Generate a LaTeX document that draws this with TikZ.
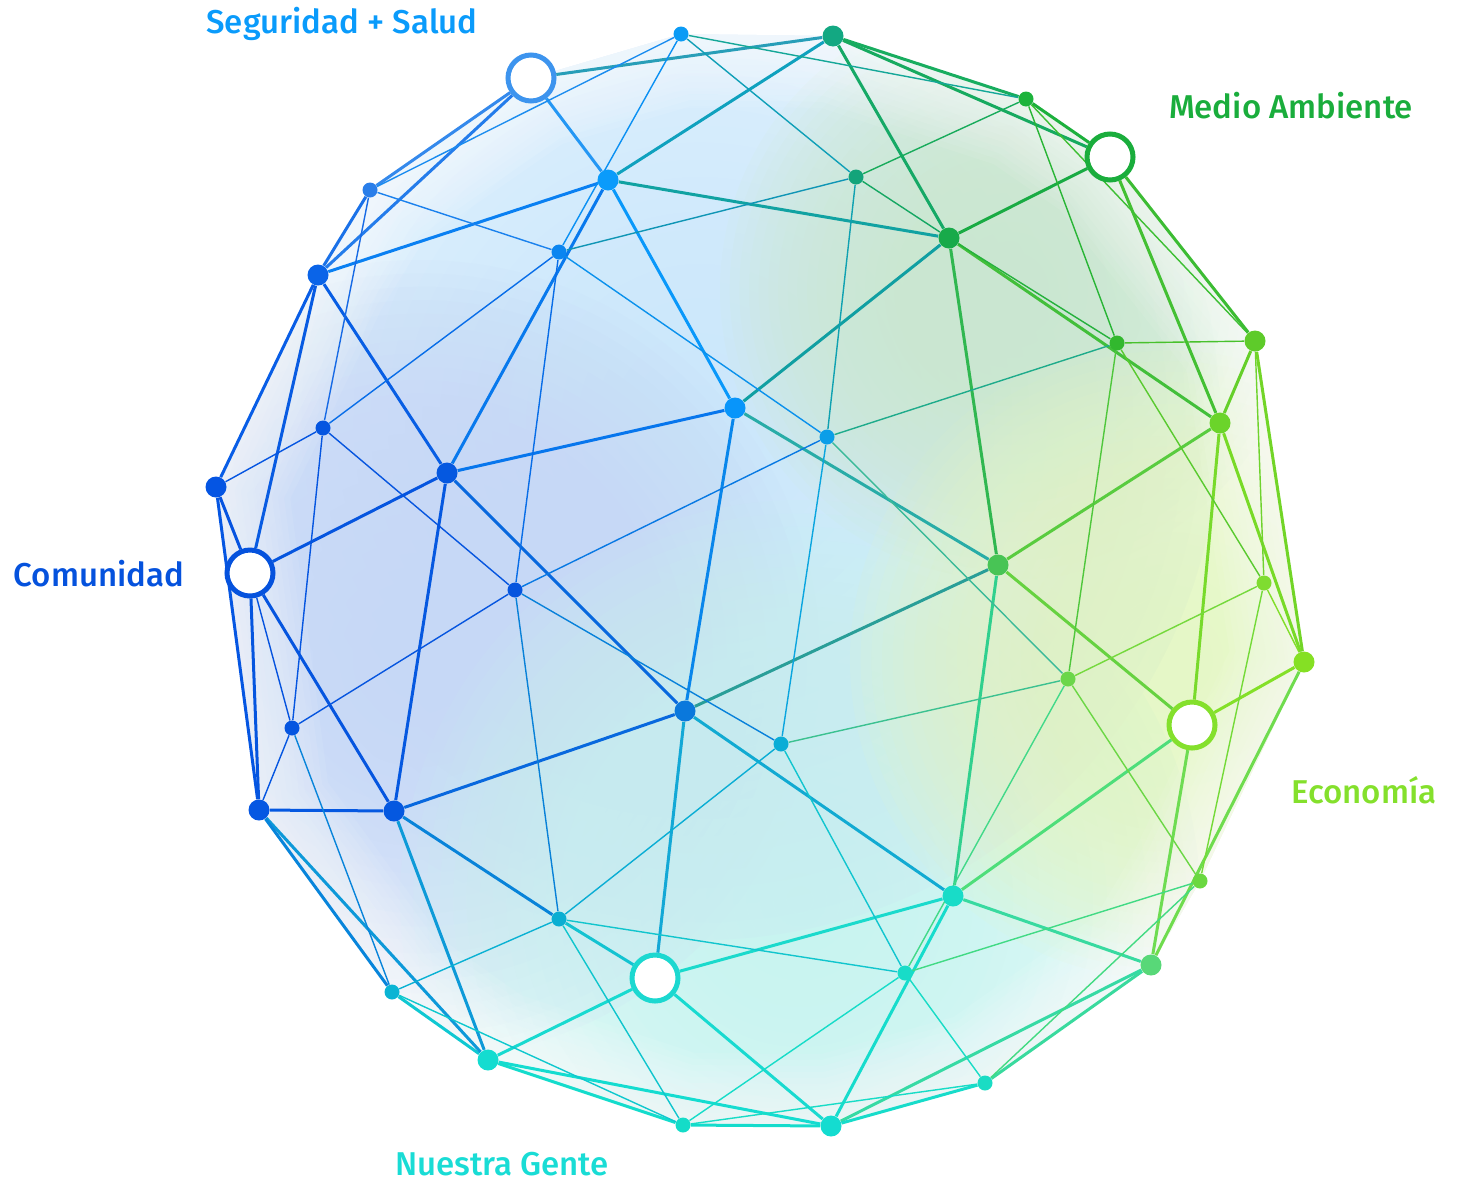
\documentclass[tikz,border=0pt]{standalone}
\usepackage{fontspec}
\setmainfont{Fira Sans}
\IfFontExistsTF{Fira Sans Medium}
  {\newfontfamily\tagfont{Fira Sans Medium}}
  {\newfontfamily\tagfont{Fira Sans}[FakeBold=1]}

% node colours
\definecolor{cseg}{HTML}{3D94EE}
\definecolor{cmed}{HTML}{1AAD3C}
\definecolor{ccom}{HTML}{0552DD}
\definecolor{ceco}{HTML}{84E02C}
\definecolor{cgen}{HTML}{1CD8D0}
\definecolor{ca1}{HTML}{0B9BF5}
\definecolor{ca2}{HTML}{13A882}
\definecolor{ca3}{HTML}{1DB33C}
\definecolor{cb1}{HTML}{2A7EE9}
\definecolor{cb2}{HTML}{0A9BFB}
\definecolor{cb3}{HTML}{13A47A}
\definecolor{cb4}{HTML}{18AA4A}
\definecolor{cc1}{HTML}{0A64E8}
\definecolor{cc2}{HTML}{0A85F0}
\definecolor{cc3}{HTML}{32B82E}
\definecolor{cc4}{HTML}{5ECB2A}
\definecolor{cd1}{HTML}{0895FA}
\definecolor{cd2}{HTML}{6BD42A}
\definecolor{cd3}{HTML}{0555E0}
\definecolor{cd4}{HTML}{0B9EE8}
\definecolor{ce1}{HTML}{0558E0}
\definecolor{ce2}{HTML}{0555E3}
\definecolor{ce3}{HTML}{48C455}
\definecolor{cf1}{HTML}{0655DE}
\definecolor{cf2}{HTML}{7FDC30}
\definecolor{cf3}{HTML}{85E024}
\definecolor{cf4}{HTML}{6BD64A}
\definecolor{cg1}{HTML}{0A78DC}
\definecolor{cg2}{HTML}{0555E0}
\definecolor{cg3}{HTML}{0AADD6}
\definecolor{ch1}{HTML}{0557E2}
\definecolor{ch2}{HTML}{0558E0}
\definecolor{ci1}{HTML}{18DCC8}
\definecolor{ci2}{HTML}{6AD840}
\definecolor{cj1}{HTML}{0AAED2}
\definecolor{cj2}{HTML}{58D878}
\definecolor{cj3}{HTML}{18DCC8}
\definecolor{ck1}{HTML}{0AB4D4}
\definecolor{ck2}{HTML}{14DCD0}
\definecolor{ck3}{HTML}{1ADCC4}
\definecolor{cl1}{HTML}{14DCC8}
\definecolor{cl2}{HTML}{14DCD0}
% glow colours
\definecolor{glowsky}{HTML}{C9E6FB}
\definecolor{glowA}{HTML}{C5D7F6}
\definecolor{glowC}{HTML}{CDEBD0}
\definecolor{glowD}{HTML}{E4F7C4}
\definecolor{glowE}{HTML}{C5F3EF}

\pgfdeclarelayer{back}
\pgfdeclarelayer{wires}
\pgfsetlayers{back,wires,main}

\begin{document}
\begin{tikzpicture}[
  x=0.5pt,y=-0.5pt,
  thk/.style={line width=1.5pt},
  thn/.style={line width=0.7pt},
  dot/.style={circle,inner sep=0pt,minimum size=10.5pt},
  pip/.style={circle,inner sep=0pt,minimum size=7.5pt},
  hub/.style={circle,inner sep=0pt,minimum size=23pt,line width=2.5pt,fill=white},
  tag/.style={font=\tagfont\fontsize{16.5}{18}\selectfont,inner sep=0pt},
  hull/.style={insert path={(681,34) -- (833,36) -- (1026,99) -- (1110,157) -- (1255,341)
    -- (1304,662) -- (1200,881) -- (1151,965) -- (985,1083) -- (831,1126) -- (683,1125)
    -- (488,1060) -- (392,992) -- (259,810) -- (216,487) -- (318,275) -- (370,190)
    -- (531,78) -- cycle}}
]
  \useasboundingbox (0,0) rectangle (1459,1184);

  % hubs
  \foreach \n/\x/\y in {seg/531/78,med/1110/157,com/250/573,eco/1192/725,gen/655/978}
    \node[hub,draw=c\n] (\n) at (\x,\y) {};
  % large dots
  \foreach \n/\x/\y in {a2/833/36,b2/608/180,b4/949/238,c1/318/275,c4/1255/341,
      d1/735/408,d2/1220/423,e1/447/473,e2/216/487,e3/998/565,f3/1304/662,
      g1/685/711,h1/259/810,h2/394/811,i1/953/896,j2/1151/965,k2/488/1060,l2/831/1126}
    \node[dot,fill=c\n] (\n) at (\x,\y) {};
  % small dots
  \foreach \n/\x/\y in {a1/681/34,a3/1026/99,b1/370/190,b3/856/177,c2/559/252,
      c3/1117/343,d3/323/428,d4/827/437,f1/515/590,f2/1264/583,f4/1068/679,
      g2/292/728,g3/781/744,i2/1200/881,j1/559/919,j3/905/973,k1/392/992,
      k3/985/1083,l1/683/1125}
    \node[pip,fill=c\n] (\n) at (\x,\y) {};

  \node[tag,text=cb2] (lseg) at (342,24) {Seguridad + Salud};
  \node[tag,text=cmed] (lmed) at (1291,106) {Medio Ambiente};
  \node[tag,text=ccom] (lcom) at (99,574) {Comunidad};
  \node[tag,text=ceco] (leco) at (1364,790) {Economía};
  \node[tag,text=cgen!90!cyan] (lgen) at (502,1164) {Nuestra Gente};

  \begin{pgfonlayer}{back}
    \begin{scope}
      \clip[hull];
      % soft colour glows, built from stacked translucent discs
      \foreach \cx/\cy/\r/\col in {700/420/520/glowsky,420/660/400/glowA,
          800/900/400/glowE,1010/290/290/glowC,1170/660/320/glowD}
        \foreach \k in {1,...,30}
          \fill[\col,opacity=0.1] (\cx,\cy) circle ({\r*\k/30});
      % soft white rim
      \foreach \w in {6,12,...,72}
        \draw[white,opacity=0.07,line width=\w pt,line join=round,hull];
    \end{scope}
  \end{pgfonlayer}

  \begin{pgfonlayer}{wires}
    \foreach \p/\q in {seg/a2,seg/b2,seg/b1,seg/c1,a2/b2,a2/b4,a2/a3,a2/med,a3/med,
        med/b4,med/c4,med/d2,b2/b4,b2/c1,b2/d1,b2/e1,b4/d1,b4/e3,b4/d2,b1/c1,
        c1/e2,c1/com,c1/e1,e1/d1,e1/com,e1/h2,e1/g1,e2/com,e2/h1,com/h1,com/h2,
        d1/g1,d1/e3,g1/h2,g1/e3,g1/gen,g1/i1,e3/d2,e3/eco,e3/i1,c4/d2,c4/f3,
        d2/eco,d2/f3,f3/eco,f3/j2,eco/i1,eco/j2,i1/gen,i1/j2,i1/l2,j2/l2,j2/k3,
        k3/l2,l2/gen,l2/l1,l2/k2,k2/l1,k2/k1,k2/h1,k2/h2,k2/gen,k1/h1,h1/h2,
        h2/j1,j1/gen}
      \draw[thk,draw=c\p!50!c\q] (\p) -- (\q);
    \foreach \p/\q in {a1/b1,a1/c2,a1/b3,a1/a3,a3/c4,a3/c3,a3/b3,b3/b4,b4/c3,
        b3/c2,b3/d4,b1/c2,b1/d3,c2/d4,c2/d3,c2/f1,d3/e2,d3/f1,d3/g2,com/g2,
        g2/f1,g2/h1,g2/k1,f1/g3,f1/d4,f1/j1,d4/c3,d4/g3,d4/f4,g3/f4,g3/j1,
        g3/j3,c3/c4,c3/f4,c3/f2,c4/f2,f2/f3,f2/f4,f2/i2,f4/j3,f4/i2,i2/j3,
        i2/k3,j3/j1,j3/l1,j3/k3,k3/l1,k1/l1,k1/j1,j1/l1}
      \draw[thn,draw=c\p!50!c\q] (\p) -- (\q);
  \end{pgfonlayer}
\end{tikzpicture}
\end{document}
